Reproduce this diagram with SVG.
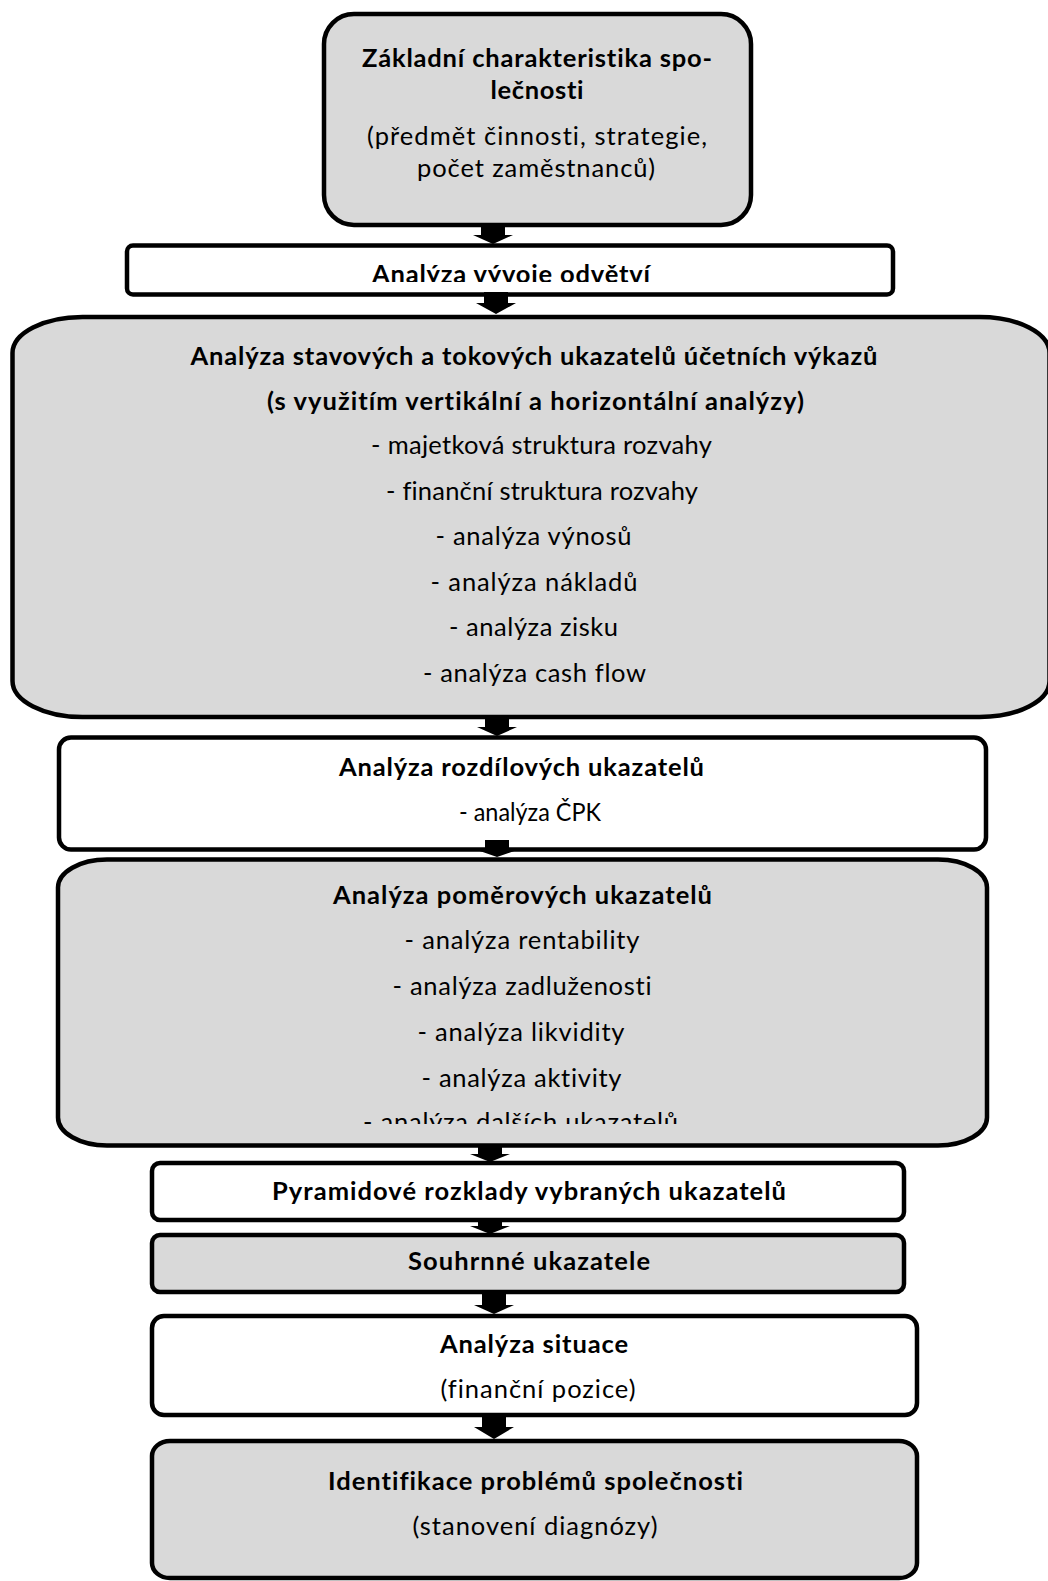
<svg xmlns="http://www.w3.org/2000/svg" width="1048" height="1581" viewBox="0 0 1048 1581">
  <style>
    .box { stroke: #000; stroke-width: 4.5; }
    .grey { fill: #d9d9d9; }
    .white { fill: #fff; }
    text { font-family: Lato, "Liberation Sans", sans-serif; font-size: 25.5px; fill: #000; text-anchor: middle; font-variant-ligatures: none; }
    .b { font-weight: bold; }
    .arrow { fill: #000; stroke: none; }
  </style>
  <defs>
    <clipPath id="clip-odvetvi"><rect x="0" y="240" width="1048" height="42"/></clipPath>
    <clipPath id="clip-dalsi"><rect x="0" y="1090" width="1048" height="34"/></clipPath>
    <clipPath id="clip-pozice"><rect x="0" y="1360" width="1048" height="42"/></clipPath>
  </defs>

  <g id="node-charakteristika">
    <rect class="box grey" x="324" y="14" width="427" height="211" rx="30" ry="30"/>
    <text class="b" x="537" y="67" textLength="350">Základní charakteristika spo-</text>
    <text class="b" x="537" y="99" textLength="93">lečnosti</text>
    <text x="537" y="145" textLength="340">(předmět činnosti, strategie,</text>
    <text x="536" y="177" textLength="238">počet zaměstnanců)</text>
  </g>

  <g id="node-odvetvi">
    <rect class="box white" x="127" y="245.5" width="766" height="49" rx="6" ry="6"/>
    <text class="b" x="511" y="282.5" textLength="278" clip-path="url(#clip-odvetvi)">Analýza vývoje odvětví</text>
  </g>

  <g id="node-vykazy">
    <rect class="box grey" x="12.5" y="317" width="1037" height="400" rx="70" ry="36"/>
    <text class="b" x="534" y="365" textLength="687">Analýza stavových a tokových ukazatelů účetních výkazů</text>
    <text class="b" x="535.5" y="410" textLength="537">(s využitím vertikální a horizontální analýzy)</text>
    <text x="541.5" y="454" textLength="341">- majetková struktura rozvahy</text>
    <text x="542" y="500" textLength="312">- finanční struktura rozvahy</text>
    <text x="533.5" y="545" textLength="196">- analýza výnosů</text>
    <text x="534" y="591" textLength="207">- analýza nákladů</text>
    <text x="533.5" y="636" textLength="169">- analýza zisku</text>
    <text x="534.5" y="682" textLength="223">- analýza cash flow</text>
  </g>

  <g id="node-rozdilove">
    <rect class="box white" x="59" y="737.5" width="927" height="112" rx="12" ry="12"/>
    <text class="b" x="521.5" y="776" textLength="365">Analýza rozdílových ukazatelů</text>
    <text x="530" y="821" textLength="142" lengthAdjust="spacingAndGlyphs">- analýza ČPK</text>
  </g>

  <g id="node-pomerove">
    <rect class="box grey" x="58" y="859.5" width="929" height="286" rx="49" ry="28"/>
    <text class="b" x="522.5" y="904" textLength="379">Analýza poměrových ukazatelů</text>
    <text x="522" y="949" textLength="235">- analýza rentability</text>
    <text x="522" y="995" textLength="259">- analýza zadluženosti</text>
    <text x="521" y="1041" textLength="207">- analýza likvidity</text>
    <text x="521.5" y="1087" textLength="200">- analýza aktivity</text>
    <text x="520.5" y="1131" textLength="315" clip-path="url(#clip-dalsi)">- analýza dalších ukazatelů</text>
  </g>

  <g id="node-pyramidove">
    <rect class="box white" x="152" y="1163" width="752" height="57" rx="8" ry="8"/>
    <text class="b" x="529" y="1200" textLength="514">Pyramidové rozklady vybraných ukazatelů</text>
  </g>

  <g id="node-souhrnne">
    <rect class="box grey" x="152" y="1235" width="752" height="57" rx="8" ry="8"/>
    <text class="b" x="529" y="1270" textLength="242">Souhrnné ukazatele</text>
  </g>

  <g id="node-situace">
    <rect class="box white" x="152" y="1316" width="765" height="99" rx="12" ry="12"/>
    <text class="b" x="534" y="1353" textLength="188">Analýza situace</text>
    <text x="538" y="1398" textLength="195" clip-path="url(#clip-pozice)">(finanční pozice)</text>
  </g>

  <g id="node-identifikace">
    <rect class="box grey" x="152" y="1441" width="765" height="137" rx="18" ry="15"/>
    <text class="b" x="535.5" y="1490" textLength="415">Identifikace problémů společnosti</text>
    <text x="535" y="1535" textLength="245">(stanovení diagnózy)</text>
  </g>

  <!-- block arrows: shaft 24 wide, head 40 wide -->
  <g id="connectors">
    <path class="arrow" d="M481,224 H505 V235 H513 L493,244 L473,235 H481 Z"/>
    <path class="arrow" d="M484,292 H508 V303 H516 L496,314 L476,303 H484 Z"/>
    <path class="arrow" d="M485,716 H509 V727 H517 L497,736 L477,727 H485 Z"/>
    <path class="arrow" d="M485,840 H509 V850 H517 L497,857 L477,850 H485 Z"/>
    <path class="arrow" d="M478,1145 H502 V1154 H510 L490,1162 L470,1154 H478 Z"/>
    <path class="arrow" d="M478,1219 H502 V1226 H510 L490,1234 L470,1226 H478 Z"/>
    <path class="arrow" d="M482,1292 H506 V1305 H514 L494,1314 L474,1305 H482 Z"/>
    <path class="arrow" d="M482,1416 H506 V1427 H514 L494,1439 L474,1427 H482 Z"/>
  </g>
</svg>
